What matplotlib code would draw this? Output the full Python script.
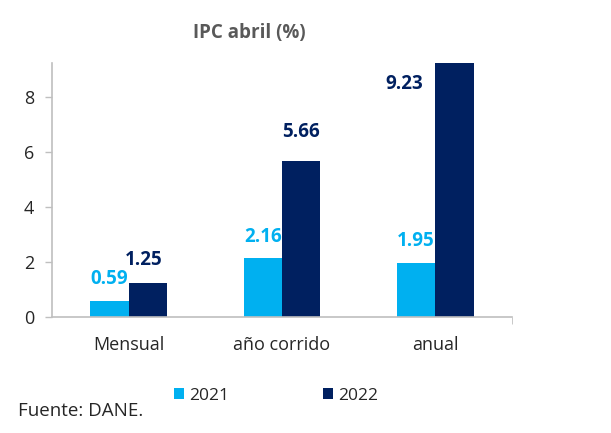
import numpy as np
import matplotlib.pyplot as plt

plt.rcParams['font.family'] = ['Open Sans', 'DejaVu Sans']

categorias = ['Mensual', 'año corrido', 'anual']
ipc_2021 = [0.59, 2.16, 1.95]
ipc_2022 = [1.25, 5.66, 9.23]

azul_claro = '#00B0F0'
azul_oscuro = '#002060'

fig = plt.figure(figsize=(6.11, 4.33), dpi=100)
ax = fig.add_axes([52 / 611, 1 - 317 / 433, 460 / 611, 254 / 433])

x = np.arange(len(categorias))
w = 0.25
b1 = ax.bar(x - w / 2, ipc_2021, w, color=azul_claro, label='2021')
b2 = ax.bar(x + w / 2, ipc_2022, w, color=azul_oscuro, label='2022')

# desplazamientos de las etiquetas (pixeles)
off_2021 = [(0, 22), (0, 21), (0, 22)]
off_2022 = [(-4, 23), (0, 29), (-50, -21)]
for rect, v, o in zip(b1, ipc_2021, off_2021):
    ax.annotate(f'{v:.2f}', (rect.get_x() + rect.get_width() / 2, v),
                xytext=o, textcoords='offset pixels', ha='center', va='center',
                color=azul_claro, fontsize=13.5, fontweight='bold')
for rect, v, o in zip(b2, ipc_2022, off_2022):
    ax.annotate(f'{v:.2f}', (rect.get_x() + rect.get_width() / 2, v),
                xytext=o, textcoords='offset pixels', ha='center', va='center',
                color=azul_oscuro, fontsize=13.5, fontweight='bold')

ax.set_xlim(-0.5, 2.5)
ax.set_ylim(0, 9.23)
ax.set_yticks([0, 2, 4, 6, 8])
ax.set_xticks(x)
ax.set_xticklabels(categorias, fontsize=13, color='#262626')
ax.tick_params(axis='x', length=0, pad=14)
ax.tick_params(axis='y', labelsize=13, labelcolor='#262626', color='#bfbfbf',
               length=5, width=1, pad=8)
ax.set_xticks([2.5], minor=True)
ax.tick_params(axis='x', which='minor', length=5, color='#bfbfbf')
for s in ['top', 'right']:
    ax.spines[s].set_visible(False)
for s in ['left', 'bottom']:
    ax.spines[s].set_color('#bfbfbf')
    ax.spines[s].set_linewidth(1.2)

fig.text(249 / 611, 1 - 33 / 433, 'IPC abril (%)', ha='center',
         va='center', fontsize=13.5, fontweight='bold', color='#595959')

leg = fig.legend(handles=[b1, b2], loc='center', bbox_to_anchor=(276 / 611, 1 - 396 / 433),
                 ncol=2, frameon=False, fontsize=12.5, handlelength=0.6, handleheight=0.6,
                 columnspacing=5.4, handletextpad=0.3)
for t in leg.get_texts():
    t.set_color('#262626')

fig.text(18 / 611, 1 - 411 / 433, 'Fuente: DANE.', ha='left', va='center',
         fontsize=13.5, color='#262626')

fig.savefig('out.png', dpi=100)
